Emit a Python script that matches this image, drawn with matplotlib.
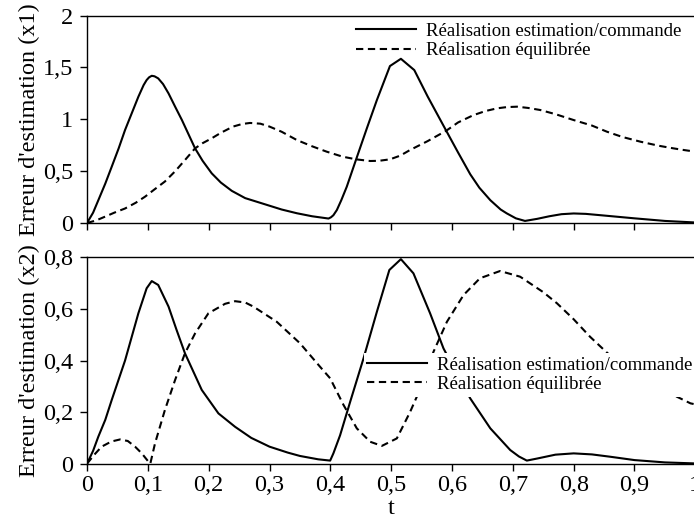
import matplotlib
matplotlib.use("Agg")
import matplotlib.pyplot as plt
from matplotlib.ticker import FixedLocator, FixedFormatter

plt.rcParams['font.family'] = ['Liberation Serif', 'DejaVu Serif']

# ---- data ----
t_x1_cmd = [0, 0.01, 0.0186, 0.03, 0.0406, 0.052, 0.0625, 0.0844, 0.093, 0.098, 0.102, 0.1064,
            0.111, 0.117, 0.125, 0.134, 0.145, 0.156, 0.1776, 0.19, 0.205, 0.22, 0.238, 0.26,
            0.29, 0.32, 0.345, 0.37, 0.397, 0.401, 0.405, 0.4107, 0.418, 0.427, 0.4424, 0.46,
            0.4765, 0.498, 0.516, 0.538, 0.56, 0.5905, 0.61, 0.63, 0.645, 0.663, 0.68, 0.69,
            0.705, 0.72, 0.74, 0.76, 0.78, 0.8, 0.82, 0.85, 0.9, 0.95, 1.0]
x1_cmd = [0, 0.1, 0.22, 0.38, 0.543, 0.72, 0.897, 1.218, 1.33, 1.379, 1.405, 1.42,
          1.415, 1.395, 1.34, 1.25, 1.12, 0.993, 0.72, 0.6, 0.479, 0.39, 0.31, 0.24,
          0.185, 0.13, 0.094, 0.065, 0.043, 0.055, 0.075, 0.125, 0.22, 0.35, 0.614, 0.913,
          1.186, 1.514, 1.584, 1.475, 1.22, 0.89, 0.68, 0.47, 0.34, 0.22, 0.13, 0.093,
          0.045, 0.02, 0.04, 0.065, 0.085, 0.092, 0.088, 0.072, 0.045, 0.02, 0.005]

t_x1_eq = [0, 0.015, 0.0296, 0.045, 0.0625, 0.08, 0.0954, 0.11, 0.128, 0.145, 0.161, 0.1776,
           0.19, 0.205, 0.22, 0.24, 0.255, 0.268, 0.285, 0.3, 0.32, 0.345, 0.37, 0.394, 0.42,
           0.4424, 0.4655, 0.48, 0.498, 0.515, 0.531, 0.56, 0.5905, 0.61, 0.635, 0.655, 0.674,
           0.69, 0.707, 0.725, 0.745, 0.77, 0.8, 0.83, 0.855, 0.88, 0.91, 0.94, 0.964, 0.98, 1.0]
x1_eq = [0, 0.025, 0.061, 0.1, 0.14, 0.195, 0.254, 0.32, 0.40, 0.5, 0.607, 0.72,
         0.77, 0.817, 0.87, 0.93, 0.955, 0.965, 0.958, 0.93, 0.88, 0.8, 0.74, 0.688, 0.64,
         0.614, 0.598, 0.6, 0.614, 0.65, 0.704, 0.79, 0.89, 0.97, 1.04, 1.08, 1.106,
         1.118, 1.122, 1.11, 1.09, 1.05, 0.993, 0.94, 0.88, 0.83, 0.784, 0.745, 0.72, 0.705, 0.688]

t_x2_cmd = [0, 0.01, 0.0186, 0.03, 0.0406, 0.0625, 0.0844, 0.098, 0.1064, 0.117, 0.134, 0.147,
            0.161, 0.1886, 0.216, 0.2434, 0.27, 0.3, 0.33, 0.35, 0.38, 0.3997, 0.405, 0.416,
            0.4326, 0.4545, 0.4765, 0.497, 0.516, 0.5366, 0.564, 0.586, 0.61, 0.63, 0.663,
            0.6957, 0.71, 0.723, 0.74, 0.77, 0.8, 0.83, 0.86, 0.9, 0.95, 1.0]
x2_cmd = [0, 0.05, 0.105, 0.17, 0.247, 0.40, 0.583, 0.68, 0.708, 0.693, 0.609, 0.52,
          0.428, 0.286, 0.195, 0.143, 0.1, 0.066, 0.043, 0.03, 0.017, 0.012, 0.04, 0.11,
          0.24, 0.408, 0.589, 0.751, 0.793, 0.738, 0.583, 0.447, 0.34, 0.253, 0.137,
          0.053, 0.028, 0.012, 0.02, 0.035, 0.04, 0.036, 0.027, 0.014, 0.005, 0.001]

t_x2_eq = [0, 0.012, 0.024, 0.04, 0.0543, 0.067, 0.079, 0.09, 0.1009, 0.104, 0.1118, 0.128,
           0.1447, 0.161, 0.1776, 0.1995, 0.227, 0.2434, 0.26, 0.2735, 0.312, 0.35, 0.383,
           0.3997, 0.4216, 0.4435, 0.4655, 0.4847, 0.5093, 0.531, 0.553, 0.5696, 0.5916, 0.619,
           0.646, 0.679, 0.712, 0.75, 0.7725, 0.8, 0.827, 0.855, 0.882, 0.91, 0.937, 0.965,
           0.992, 1.0]
x2_eq = [0, 0.035, 0.066, 0.086, 0.094, 0.088, 0.066, 0.04, 0.008, 0.0, 0.079, 0.208,
         0.324, 0.428, 0.505, 0.583, 0.62, 0.63, 0.625, 0.609, 0.55, 0.467, 0.376,
         0.331, 0.228, 0.137, 0.085, 0.069, 0.098, 0.20, 0.318, 0.434, 0.55, 0.654,
         0.719, 0.747, 0.725, 0.665, 0.622, 0.56, 0.492, 0.43, 0.376, 0.335, 0.298, 0.265,
         0.234, 0.23]

x_ticks = [0, 0.1, 0.2, 0.3, 0.4, 0.5, 0.6, 0.7, 0.8, 0.9, 1.0]
x_tick_labels = ['0', '0,1', '0,2', '0,3', '0,4', '0,5', '0,6', '0,7', '0,8', '0,9', '1']
y1_ticks = [0, 0.5, 1, 1.5, 2]
y1_tick_labels = ['0', '0,5', '1', '1,5', '2']
y2_ticks = [0, 0.2, 0.4, 0.6, 0.8]
y2_tick_labels = ['0', '0,2', '0,4', '0,6', '0,8']

label_cmd = 'Réalisation estimation/commande'
label_eq = 'Réalisation équilibrée'
ylabel1 = "Erreur d'estimation (x1)"
ylabel2 = "Erreur d'estimation (x2)"
xlabel = 't'

# ---- figure ----
fig = plt.figure(figsize=(6.94, 5.22), dpi=100)
ax1 = fig.add_axes([0.1254, 0.5728, 0.8765, 0.3972])
ax2 = fig.add_axes([0.1254, 0.1117, 0.8765, 0.3953])

lw = 1.5
dash = (3.5, 2.2)
fs = 17.5

for ax, tc, yc, te, ye, yt, ytl, ylim, yl in [
        (ax1, t_x1_cmd, x1_cmd, t_x1_eq, x1_eq, y1_ticks, y1_tick_labels, (0, 2), ylabel1),
        (ax2, t_x2_cmd, x2_cmd, t_x2_eq, x2_eq, y2_ticks, y2_tick_labels, (0, 0.8), ylabel2)]:
    ax.plot(tc, yc, color='black', lw=lw, label=label_cmd, solid_joinstyle='round')
    ax.plot(te, ye, color='black', lw=lw, linestyle=(0, dash), label=label_eq,
            dash_capstyle='butt')
    ax.set_xlim(0, 1)
    ax.set_ylim(*ylim)
    ax.xaxis.set_major_locator(FixedLocator(x_ticks))
    ax.yaxis.set_major_locator(FixedLocator(yt))
    ax.yaxis.set_major_formatter(FixedFormatter(ytl))
    ax.tick_params(direction='out', length=5, width=1, labelsize=fs)
    ax.tick_params(axis='y', pad=5)
    ax.tick_params(axis='x', pad=3.5)
    ax.spines['right'].set_visible(False)
    for s in ['left', 'bottom', 'top']:
        ax.spines[s].set_linewidth(1)
    ax.set_ylabel(yl, fontsize=fs, labelpad=2)

ax1.xaxis.set_major_formatter(FixedFormatter([''] * len(x_ticks)))
ax2.xaxis.set_major_formatter(FixedFormatter(x_tick_labels))
ax2.set_xlabel(xlabel, fontsize=fs, labelpad=1)

leg_kw = dict(fontsize=13.5, handlelength=3.2, handletextpad=0.5,
              labelspacing=0.12, borderpad=0.2, borderaxespad=0, loc='upper right')
ax1.legend(bbox_to_anchor=(0.983, 0.984), frameon=False, **leg_kw)
ax2.legend(bbox_to_anchor=(1.001, 0.538), frameon=True, facecolor='white',
           edgecolor='none', framealpha=1, fancybox=False, **leg_kw)

fig.savefig('out.png', dpi=100)
